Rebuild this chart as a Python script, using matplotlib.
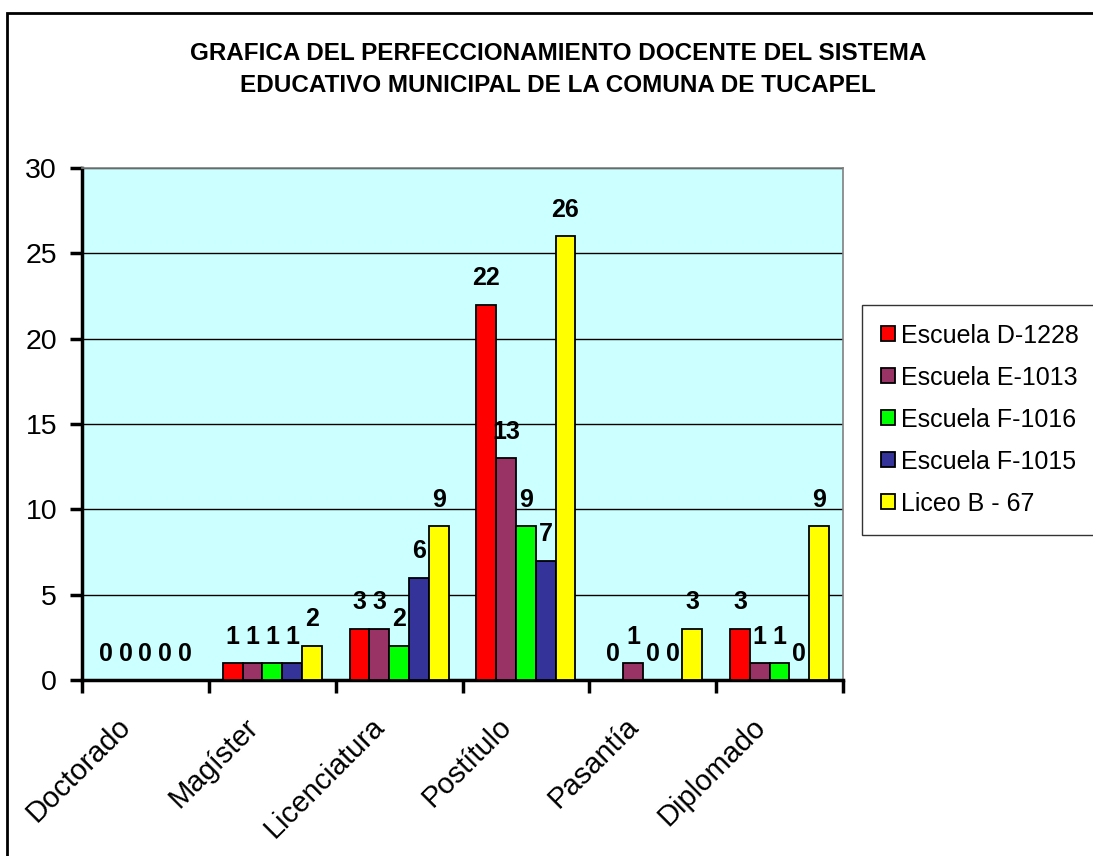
import numpy as np
import matplotlib
matplotlib.use("Agg")
import matplotlib.pyplot as plt
from matplotlib.patches import Rectangle

# categories and series
categorias = ["Doctorado", "Magíster", "Licenciatura", "Postítulo", "Pasantía", "Diplomado"]
escuelas = ["Escuela D-1228", "Escuela E-1013", "Escuela F-1016", "Escuela F-1015", "Liceo B - 67"]
d1228 = [0, 1, 3, 22, 0, 3]
e1013 = [0, 1, 3, 13, 1, 1]
f1016 = [0, 1, 2, 9, 0, 1]
f1015 = [0, 1, 6, 7, 0, 0]
liceo = [0, 2, 9, 26, 3, 9]
colores = ["#FF0000", "#993366", "#00FF00", "#333399", "#FFFF00"]

series = [d1228, e1013, f1016, f1015, liceo]

plt.rcParams['font.family'] = ['Liberation Sans', 'DejaVu Sans']

fig = plt.figure(figsize=(10.93, 8.56), dpi=100)
fig.patch.set_facecolor("white")

# outer chart border (Excel style)
fig.patches.append(Rectangle((7/1093, -0.05), 1.1, 1 - 13/856 + 0.05,
                             transform=fig.transFigure, fill=False,
                             edgecolor="black", linewidth=2))

ax = fig.add_axes([82/1093, 1 - 680/856, (843-82)/1093, (680-168)/856])
ax.set_facecolor("#CCFFFF")

x = np.arange(len(categorias))
ancho = 0.156
for i, (vals, nombre, col) in enumerate(zip(series, escuelas, colores)):
    pos = x + (i - 2) * ancho
    ax.bar(pos, vals, width=ancho, color=col, edgecolor="black",
           linewidth=1.3, label=nombre, zorder=3)
    for p, v in zip(pos, vals):
        ax.annotate(str(v), (p, v), xytext=(0, 19), textcoords="offset points",
                    ha="center", va="center", fontsize=18, fontweight="bold",
                    zorder=5)

ax.set_xlim(-0.5, len(categorias) - 0.5)
ax.set_ylim(0, 30)
ax.set_yticks(np.arange(0, 31, 5))
ax.yaxis.grid(True, color="black", linewidth=1, zorder=0)
ax.set_axisbelow(True)

ax.set_xticks(np.arange(-0.5, len(categorias) + 0.5, 1))
ax.set_xticklabels([])
ax.tick_params(axis="x", which="major", length=9, width=2.5, direction="out")
ax.tick_params(axis="y", length=9, width=2.5, direction="out", labelsize=20.5, pad=9)

# rotated category names, right end just below each category centre
for xi, nombre in zip(x, categorias):
    ax.annotate(nombre, (xi, 0), xycoords=("data", "axes fraction"),
                xytext=(-13.5, -30.5), textcoords="offset points",
                rotation=45, ha="right", va="center", rotation_mode="anchor",
                fontsize=21)

ax.spines["left"].set_linewidth(2.5)
ax.spines["bottom"].set_linewidth(2.5)
ax.spines["top"].set_color("#808080")
ax.spines["right"].set_color("#808080")
ax.spines["top"].set_linewidth(1.2)
ax.spines["right"].set_linewidth(1.2)

fig.text(558/1093, 1 - 69.5/856,
         "GRAFICA DEL PERFECCIONAMIENTO DOCENTE DEL SISTEMA\nEDUCATIVO MUNICIPAL DE LA COMUNA DE TUCAPEL",
         ha="center", va="center", fontsize=17.5, fontweight="bold", linespacing=1.55)

leg = fig.legend(loc="upper left", bbox_to_anchor=(862/1093, 1 - 305/856),
                 fontsize=18, frameon=True, fancybox=False, borderpad=0.75,
                 labelspacing=0.72, handlelength=0.55, handleheight=0.55,
                 handletextpad=0.25, borderaxespad=0)
leg.get_frame().set_edgecolor("black")
leg.get_frame().set_linewidth(1)

fig.savefig("out.png", dpi=100)
